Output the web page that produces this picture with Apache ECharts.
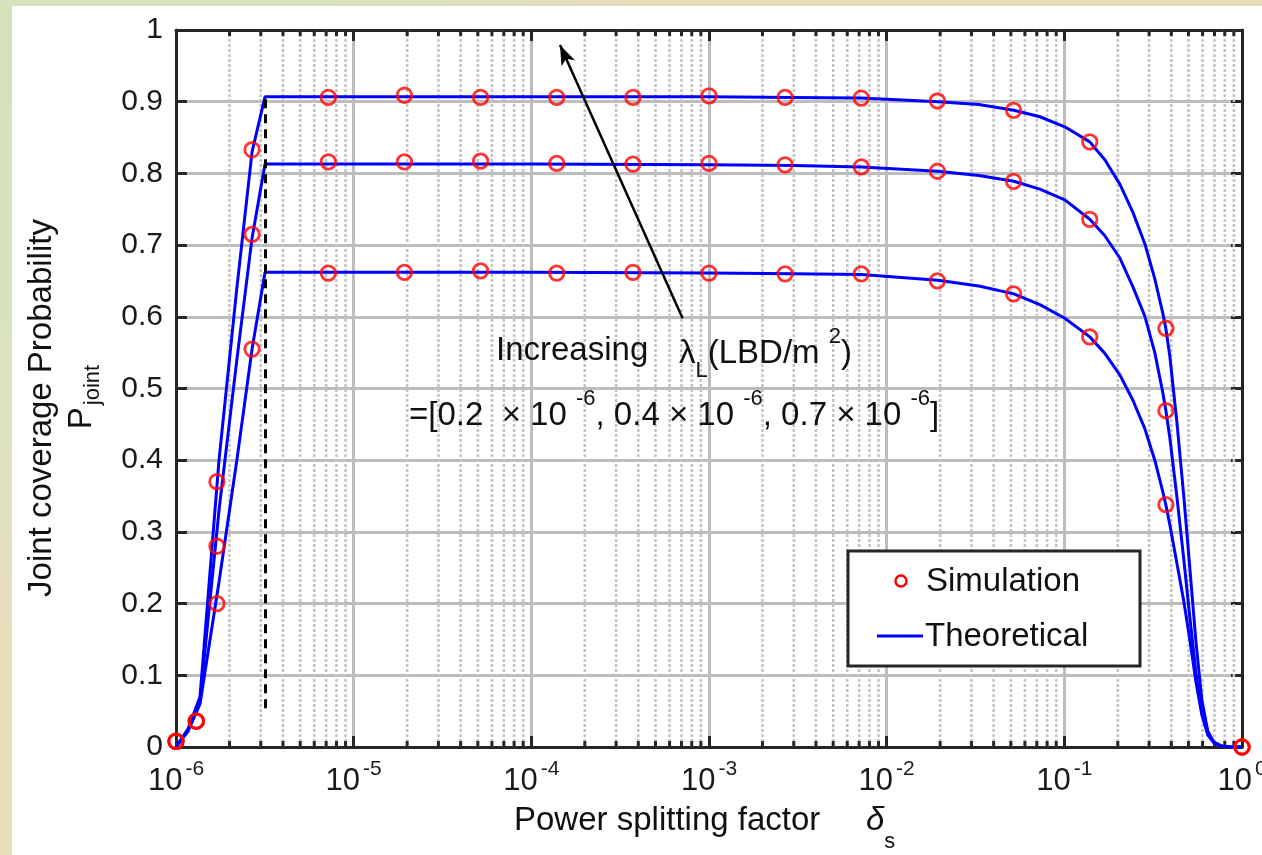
<!DOCTYPE html>
<html>
<head>
<meta charset="utf-8">
<script src="https://cdn.jsdelivr.net/npm/echarts@6/dist/echarts.min.js"></script>
<style>
html, body { margin: 0; padding: 0; width: 1262px; height: 855px; overflow: hidden;
  background: radial-gradient(circle at 0 0, #d4e2bb 0px, #d8e3be 320px, #e3dfba 560px, #e7ddb7 900px); }
#frame { position: absolute; left: 12px; top: 6px; right: 0; bottom: 0; background: #fff; }
#chart { position: absolute; left: 0; top: 0; width: 1262px; height: 855px; }
</style>
</head>
<body>
<div id="frame"></div>
<div id="chart"></div>
<script>
var FONT = 'Liberation Sans, Arial, sans-serif';

// tick labels
var yTickLabels = ['0', '0.1', '0.2', '0.3', '0.4', '0.5', '0.6', '0.7', '0.8', '0.9', '1'];
var xExpLabels = ['-6', '-5', '-4', '-3', '-2', '-1', '0'];

// simulation points (power splitting factor)
var simX = [1e-6, 1.3e-6, 1.7e-6, 2.68e-6, 7.2e-6, 1.93e-5, 5.18e-5, 1.39e-4, 3.73e-4, 1e-3,
            2.68e-3, 7.2e-3, 1.93e-2, 5.18e-2, 0.139, 0.373, 1];
var simHigh = [0.008, 0.036, 0.37, 0.833, 0.906, 0.909, 0.906, 0.906, 0.906, 0.908,
               0.906, 0.905, 0.901, 0.888, 0.844, 0.584, 0];
var simMid  = [0.008, 0.036, 0.28, 0.715, 0.816, 0.816, 0.817, 0.814, 0.813, 0.814,
               0.812, 0.809, 0.803, 0.789, 0.736, 0.469, 0];
var simLow  = [0.008, 0.036, 0.20, 0.555, 0.661, 0.662, 0.664, 0.661, 0.662, 0.661,
               0.660, 0.660, 0.650, 0.632, 0.572, 0.338, 0];

// theoretical curves
var thX = [1e-6, 1.17e-6, 1.365e-6, 1.746e-6, 2.2e-6, 2.68e-6, 3.17e-6,
           1e-5, 1e-4, 1e-3, 3e-3, 7.2e-3, 1.94e-2, 3.3e-2,
           0.052, 0.0728, 0.1006, 0.1391, 0.169, 0.2053, 0.2429, 0.2838,
           0.323, 0.3583, 0.3725, 0.3925, 0.4296, 0.4706, 0.5085, 0.5495,
           0.594, 0.6422, 0.694, 0.7697, 0.876, 1];
var thHigh = [0, 0.025, 0.07, 0.40, 0.64, 0.83, 0.907,
              0.907, 0.907, 0.907, 0.906, 0.905, 0.900, 0.896,
              0.888, 0.879, 0.865, 0.844, 0.819, 0.785, 0.746, 0.702,
              0.653, 0.605, 0.584, 0.545, 0.454, 0.349, 0.250, 0.149,
              0.066, 0.022, 0.007, 0.0014, 0, 0];
var thMid  = [0, 0.025, 0.065, 0.33, 0.54, 0.71, 0.813,
              0.813, 0.813, 0.812, 0.811, 0.809, 0.803, 0.797,
              0.789, 0.778, 0.763, 0.736, 0.713, 0.682, 0.642, 0.601,
              0.550, 0.494, 0.470, 0.431, 0.350, 0.261, 0.181, 0.105,
              0.049, 0.017, 0.006, 0.001, 0, 0];
var thLow  = [0, 0.022, 0.06, 0.23, 0.40, 0.555, 0.662,
              0.662, 0.662, 0.661, 0.660, 0.659, 0.651, 0.643,
              0.632, 0.617, 0.598, 0.572, 0.549, 0.519, 0.484, 0.444,
              0.400, 0.356, 0.338, 0.310, 0.257, 0.203, 0.150, 0.092,
              0.045, 0.017, 0.006, 0.001, 0, 0];

// threshold marker and arrow
var threshold = 3.17e-6;
var arrowFrom = [7.1e-4, 0.598];
var arrowTo = [1.45e-4, 0.979];

// minor log grid positions 2..9 per decade
var minorX = [];
for (var d = -6; d < 0; d++) {
    for (var m = 2; m <= 9; m++) minorX.push([m * Math.pow(10, d), 0]);
}

function pairs(xs, ys) {
    return xs.map(function (x, i) { return [x, ys[i]]; });
}

var AXIS = '#262626';
var tickStyle = { color: AXIS, width: 3 };

var chart = echarts.init(document.getElementById('chart'));

function lineSeries(ys, extra) {
    var s = {
        name: 'Theoretical', type: 'line', symbol: 'none', z: 3,
        data: pairs(thX, ys),
        lineStyle: { color: '#0000ff', width: 3 },
        itemStyle: { color: '#0000ff' }
    };
    return Object.assign(s, extra || {});
}
function simSeries(ys) {
    return {
        name: 'Simulation', type: 'scatter', data: pairs(simX, ys),
        symbol: 'circle', symbolSize: 14.5, z: 5,
        itemStyle: { color: 'rgba(0,0,0,0)', borderColor: '#ff0000', borderWidth: 2.8 }
    };
}

function txt(x, y, text, extra) {
    var style = { text: text, fontSize: 33, fontFamily: FONT, fill: '#111',
                  textAlign: 'left', textVerticalAlign: 'middle', align: 'left', verticalAlign: 'middle' };
    Object.assign(style, extra || {});
    return { type: 'text', x: x, y: y, z: 50, style: style };
}

var richN = { fontSize: 33, lineHeight: 56, fontFamily: FONT, fill: '#111' };
var richSup = { fontSize: 22, lineHeight: 22, fontFamily: FONT, fill: '#111', verticalAlign: 'top' };
var richSup2 = { fontSize: 22, lineHeight: 40, fontFamily: FONT, fill: '#111', verticalAlign: 'top' };
var richSub = { fontSize: 22, lineHeight: 22, fontFamily: FONT, fill: '#111', verticalAlign: 'bottom' };

chart.setOption({
    animation: false,
    grid: { left: 176, right: 20, top: 30, bottom: 108, containLabel: false, outerBoundsMode: 'none' },
    xAxis: [{
        type: 'log', logBase: 10, min: 1e-6, max: 1, position: 'bottom',
        axisLine: { show: true, onZero: false, lineStyle: { color: AXIS, width: 3 } },
        axisTick: { show: true, inside: true, length: 11, lineStyle: tickStyle },
        axisLabel: {
            margin: 12, showMaxLabel: true, showMinLabel: true, hideOverlap: false,
            formatter: function (v) {
                var e = Math.round(Math.log10(v));
                return '{b|10}{s|' + xExpLabels[e + 6] + '}';
            },
            rich: {
                b: { fontSize: 31, lineHeight: 44, fontFamily: FONT, color: '#1a1a1a' },
                s: { fontSize: 21, lineHeight: 22, fontFamily: FONT, color: '#1a1a1a',
                     verticalAlign: 'top', padding: [0, 0, 0, 3] }
            }
        },
        splitLine: { show: true, lineStyle: { color: '#bdbdbd', width: 3 } }
    }, {
        type: 'log', logBase: 10, min: 1e-6, max: 1, position: 'top',
        axisLine: { show: true, onZero: false, lineStyle: { color: AXIS, width: 3 } },
        axisTick: { show: true, inside: true, length: 11, lineStyle: tickStyle },
        axisLabel: { show: false },
        splitLine: { show: false }
    }],
    yAxis: [{
        type: 'value', min: 0, max: 1, interval: 0.1, position: 'left',
        axisLine: { show: true, onZero: false, lineStyle: { color: AXIS, width: 3 } },
        axisTick: { show: true, inside: true, length: 11, lineStyle: tickStyle },
        axisLabel: {
            margin: 13, fontSize: 30, fontFamily: FONT, color: '#1a1a1a',
            formatter: function (v) { return yTickLabels[Math.round(v * 10)]; }
        },
        splitLine: { show: true, lineStyle: { color: '#bdbdbd', width: 3 } }
    }, {
        type: 'value', min: 0, max: 1, interval: 0.1, position: 'right',
        axisLine: { show: true, onZero: false, lineStyle: { color: AXIS, width: 3 } },
        axisTick: { show: true, inside: true, length: 11, lineStyle: tickStyle },
        axisLabel: { show: false },
        splitLine: { show: false }
    }],
    series: [
        {
            type: 'custom', name: 'minor', data: minorX, z: 1, silent: true, clip: false,
            encode: { x: 0, y: 1 },
            renderItem: function (params, api) {
                var x = api.value(0);
                var b = api.coord([x, 0]);
                var t = api.coord([x, 1]);
                return {
                    type: 'group',
                    children: [
                        { type: 'line', shape: { x1: b[0], y1: b[1], x2: t[0], y2: t[1] },
                          style: { stroke: '#c4c4c4', lineWidth: 2.5, lineDash: [3, 2] } },
                        { type: 'line', shape: { x1: b[0], y1: b[1], x2: b[0], y2: b[1] - 6 },
                          style: { stroke: AXIS, lineWidth: 3 } },
                        { type: 'line', shape: { x1: t[0], y1: t[1], x2: t[0], y2: t[1] + 6 },
                          style: { stroke: AXIS, lineWidth: 3 } }
                    ]
                };
            }
        },
        lineSeries(thHigh, {
            markLine: {
                silent: true, animation: false,
                label: { show: false },
                emphasis: { disabled: true },
                data: [
                    [{ coord: [threshold, 0.054], symbol: 'none',
                       lineStyle: { color: '#000', width: 3, type: [9, 6] } },
                     { coord: [threshold, 0.907], symbol: 'none' }],
                    [{ coord: arrowFrom, symbol: 'none',
                       lineStyle: { color: '#000', width: 2.5, type: 'solid' } },
                     { coord: arrowTo, symbol: 'arrow', symbolSize: [11, 20] }]
                ]
            }
        }),
        lineSeries(thMid),
        lineSeries(thLow),
        simSeries(simHigh),
        simSeries(simMid),
        simSeries(simLow)
    ],
    graphic: [
        { type: 'text', x: 42, y: 408, rotation: Math.PI / 2, z: 50,
          style: { text: 'Joint coverage Probability', fontSize: 33, fontFamily: FONT, fill: '#111',
                   textAlign: 'center', textVerticalAlign: 'middle', align: 'center', verticalAlign: 'middle' } },
        { type: 'text', x: 82, y: 397, rotation: Math.PI / 2, z: 50,
          style: { text: '{p|P}{sub|joint}', fill: '#111',
                   textAlign: 'center', textVerticalAlign: 'middle', align: 'center', verticalAlign: 'middle',
                   rich: {
                       p: { fontSize: 33, lineHeight: 44, fontFamily: FONT, fill: '#111' },
                       sub: { fontSize: 22, lineHeight: 22, fontFamily: FONT, fill: '#111', verticalAlign: 'bottom', padding: [0, 0, 0, 2] }
                   } } },
        txt(514, 821, 'Power splitting factor'),
        { type: 'text', x: 866, y: 821, z: 50,
          style: { text: '{d|δ}{sub|s}', fill: '#111',
                   textAlign: 'left', textVerticalAlign: 'middle', align: 'left', verticalAlign: 'middle',
                   rich: {
                       d: { fontSize: 33, lineHeight: 64, fontFamily: FONT, fontStyle: 'italic', fill: '#111' },
                       sub: { fontSize: 22, lineHeight: 22, fontFamily: FONT, fill: '#111', verticalAlign: 'bottom' }
                   } } },
        txt(496, 351, 'Increasing'),
        txt(679, 354, '{n|λ}{sub|L}{n|(LBD/m }{sup2|2}{n|)}',
            { rich: { n: richN, sub: richSub, sup2: richSup2 } }),
        txt(409, 416, '{n|=[0.2  × 10 }{sup|-6}{n|, 0.4 × 10 }{sup|-6}{n|, 0.7 × 10 }{sup|-6}{n|]}',
            { rich: { n: richN, sup: richSup } }),
        // legend box
        { type: 'rect', z: 60, shape: { x: 848, y: 551, width: 292, height: 115 },
          style: { fill: '#fff', stroke: AXIS, lineWidth: 3 } },
        { type: 'circle', z: 61, shape: { cx: 901, cy: 581, r: 5.5 },
          style: { fill: 'none', stroke: '#ff0000', lineWidth: 2.5 } },
        Object.assign(txt(926, 582, 'Simulation'), { z: 61 }),
        { type: 'line', z: 61, shape: { x1: 877, y1: 636, x2: 923, y2: 636 },
          style: { stroke: '#0000ff', lineWidth: 3 } },
        Object.assign(txt(925, 637, 'Theoretical'), { z: 61 })
    ]
});
</script>
</body>
</html>
